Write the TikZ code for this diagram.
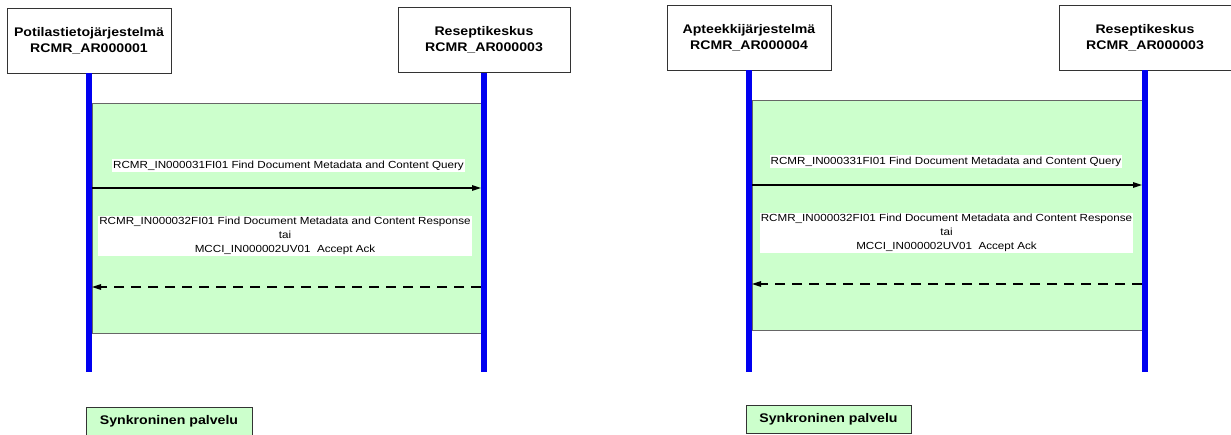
\documentclass[tikz,border=0pt]{standalone}
\usepackage{fontspec}
\setmainfont{Liberation Sans}
\newfontfamily\diagfont[FakeStretch=1.13]{Liberation Sans}
\usetikzlibrary{arrows.meta}
\definecolor{zonegreen}{HTML}{CCFFCC}
\definecolor{lifeblue}{HTML}{0000F0}

\begin{document}
\begin{tikzpicture}[x=1pt,y=-1pt,inner sep=2pt,
        >={Triangle[length=9pt,width=5.5pt]},
        actor/.style={draw=black!80,fill=white,align=center,minimum height=65pt,
            font=\diagfont\fontsize{12.5}{16}\selectfont\bfseries},
        lifeline/.style={draw=lifeblue,line width=6pt},
        zone/.style={draw=black!60,fill=zonegreen},
        msgtext/.style={fill=white,align=center,inner xsep=1pt,inner ysep=1.5pt,
            font=\diagfont\fontsize{10.3}{14}\selectfont},
        call/.style={line width=1.3pt,->},
        reply/.style={line width=1.3pt,->,dash pattern=on 10pt off 7pt},
        note/.style={draw=black!80,fill=zonegreen,minimum height=28pt,
            font=\diagfont\fontsize{12.5}{15}\selectfont\bfseries}]
        \useasboundingbox (0,0) rectangle (1231,434);
        % left diagram
        \node [zone,minimum width=389pt,minimum height=230pt] (Z1) at (286.5,218) {};
        \node [actor,minimum width=164pt] (PTJ) at (89,40.5)
            {Potilastietojärjestelmä\\RCMR\_AR000001};
        \node [actor,minimum width=172pt] (RK1) at (484,40)
            {Reseptikeskus\\RCMR\_AR000003};
        \coordinate (PTJend) at (89,372);
        \coordinate (RK1end) at (484,372);
        \draw [lifeline] (PTJ) -- (PTJend);
        \draw [lifeline] (RK1) -- (RK1end);
        \node [msgtext] (Q1) at (288.5,165.5)
            {RCMR\_IN000031FI01 Find Document Metadata and Content Query};
        \coordinate (Q1a) at (92,188);
        \coordinate (Q1b) at (481,188);
        \draw [call] (Q1a) -- (Q1b);
        \node [msgtext] (R1) at (285,236)
            {RCMR\_IN000032FI01 Find Document Metadata and Content Response\\tai\\
            MCCI\_IN000002UV01\ \ Accept Ack};
        \coordinate (R1a) at (481,287);
        \coordinate (R1b) at (92,287);
        \draw [reply] (R1a) -- (R1b);
        \node [note,minimum width=166pt] (S1) at (169,421) {Synkroninen palvelu};
        % right diagram
        \node [zone,minimum width=390pt,minimum height=230pt] (Z2) at (947,215) {};
        \node [actor,minimum width=164pt] (AJ) at (749,37.5)
            {Apteekkijärjestelmä\\RCMR\_AR000004};
        \node [actor,minimum width=172pt] (RK2) at (1145,37.5)
            {Reseptikeskus\\RCMR\_AR000003};
        \coordinate (AJend) at (749,372);
        \coordinate (RK2end) at (1145,372);
        \draw [lifeline] (AJ) -- (AJend);
        \draw [lifeline] (RK2) -- (RK2end);
        \node [msgtext] (Q2) at (946,161.5)
            {RCMR\_IN000331FI01 Find Document Metadata and Content Query};
        \coordinate (Q2a) at (752,185);
        \coordinate (Q2b) at (1142,185);
        \draw [call] (Q2a) -- (Q2b);
        \node [msgtext] (R2) at (946.5,233)
            {RCMR\_IN000032FI01 Find Document Metadata and Content Response\\tai\\
            MCCI\_IN000002UV01\ \ Accept Ack};
        \coordinate (R2a) at (1142,284);
        \coordinate (R2b) at (752,284);
        \draw [reply] (R2a) -- (R2b);
        \node [note,minimum width=165pt] (S2) at (828.5,419) {Synkroninen palvelu};
    \end{tikzpicture}
\end{document}
